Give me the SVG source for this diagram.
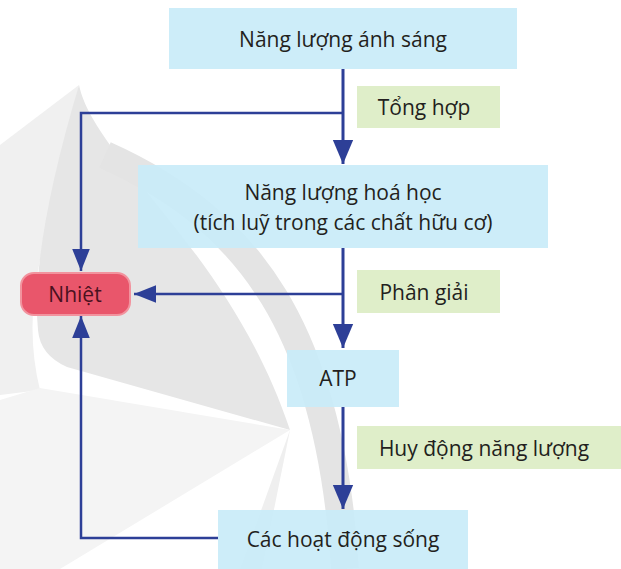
<svg xmlns="http://www.w3.org/2000/svg" width="621" height="569" viewBox="0 0 621 569">
<style>
.t{font-family:"Open Sans","Noto Sans",sans-serif;font-size:21px;fill:#231f20;text-anchor:middle;dominant-baseline:central}
.blue{fill:#c9ecf8;fill-opacity:0.92}
.green{fill:#dfeec9}
.ln{fill:none;stroke:#2d3f97;stroke-width:3}
.ln2{fill:none;stroke:#2d3f97;stroke-width:2.5}
</style>
<defs>
<marker id="big" markerUnits="userSpaceOnUse" markerWidth="24" markerHeight="30" refX="26" refY="11" orient="auto" viewBox="0 0 26 22">
<path d="M0 0 L26 11 L0 22 Z" fill="#2d3f97"/>
</marker>
<marker id="small" markerUnits="userSpaceOnUse" markerWidth="22" markerHeight="18" refX="20" refY="8" orient="auto" viewBox="0 0 20 16">
<path d="M0 0 L20 8 L0 16 Z" fill="#2d3f97"/>
</marker>
</defs>
<rect width="621" height="569" fill="#ffffff"/>
<g id="watermark">
<path d="M79 85 L0 145 L0 395 L40 390 Q25 330 40 260 Z" fill="#f0f0f0"/>
<path d="M79 85 C95 160 230 250 290 430 L67 367 Q40 355 38 330 Q30 250 79 85 Z" fill="#e6e6e6"/>
<path d="M290 430 L40 388 L0 400 L0 569 L60 569 Z" fill="#f4f4f4"/>
<path d="M290 430 L240 569 L262 569 Z" fill="#efefef"/>
<path d="M105 155 C250 220 330 330 345 569" fill="none" stroke="#e4e4e4" stroke-width="28"/>
</g>
<g id="n1"><rect class="blue" x="169" y="8" width="348" height="61"/><text class="t" x="343" y="39">Năng lượng ánh sáng</text></g>
<g id="l1"><rect class="green" x="357" y="86" width="143" height="42"/><text class="t" x="424" y="107">Tổng hợp</text></g>
<g id="n2"><rect class="blue" x="138" y="165" width="410" height="83"/><text class="t" x="343" y="192">Năng lượng hoá học</text><text class="t" x="343" y="222">(tích luỹ trong các chất hữu cơ)</text></g>
<g id="l2"><rect class="green" x="357" y="270" width="143" height="43"/><text class="t" x="424" y="292">Phân giải</text></g>
<g id="n3"><rect class="blue" x="287" y="350" width="112" height="57"/><text class="t" x="338" y="378">ATP</text></g>
<g id="l3"><rect class="green" x="357" y="426" width="264" height="43"/><text class="t" x="484" y="448">Huy động năng lượng</text></g>
<g id="n4"><rect class="blue" x="218" y="510" width="250" height="59"/><text class="t" x="343" y="539">Các hoạt động sống</text></g>
<g id="nhiet"><rect x="21" y="273" width="109" height="42" rx="13" fill="#e9566b" stroke="#f2939e" stroke-width="2"/><text class="t" x="75" y="294" style="fill:#4a1120">Nhiệt</text></g>
<g id="connectors">
<path class="ln" d="M343 69 V164" marker-end="url(#big)"/>
<path class="ln2" d="M343 113 H81 V271" marker-end="url(#small)"/>
<path class="ln" d="M343 248 V348" marker-end="url(#big)"/>
<path class="ln2" d="M343 294 H134" marker-end="url(#small)"/>
<path class="ln" d="M343 407 V509" marker-end="url(#big)"/>
<path class="ln2" d="M218 538 H81 V316" marker-end="url(#small)"/>
</g>
</svg>
